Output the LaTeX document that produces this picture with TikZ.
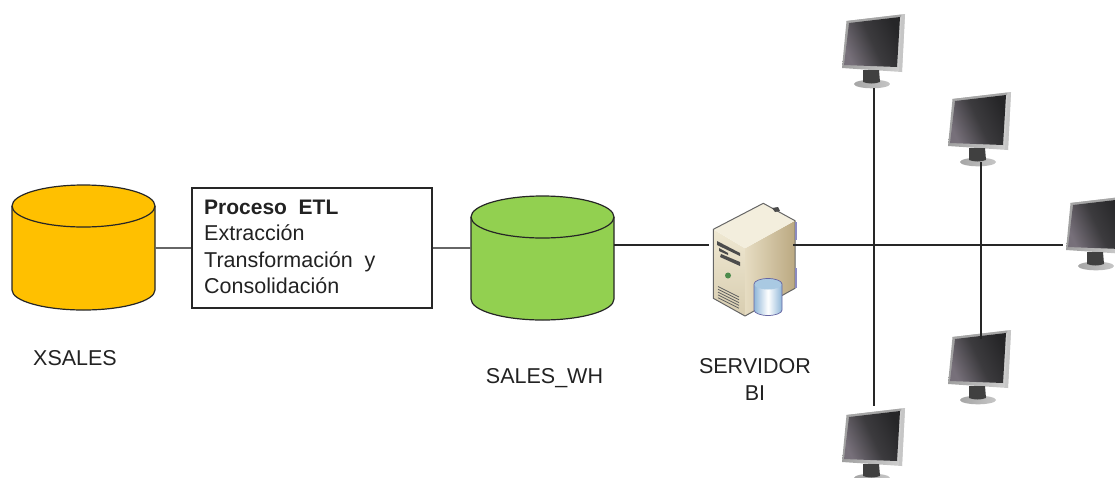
\documentclass[tikz,border=0pt]{standalone}
\usepackage{fontspec}
\setmainfont{Liberation Sans}
\definecolor{txt}{HTML}{222222}
\definecolor{srvtop}{HTML}{F3EEDD}
\definecolor{srvfrontA}{HTML}{EFE8D2}
\definecolor{srvfrontB}{HTML}{D8CDB0}
\definecolor{srvsideA}{HTML}{E6DCC2}
\definecolor{srvsideB}{HTML}{BBA981}
\definecolor{dbside}{HTML}{8FB6D8}
\definecolor{dbtop}{HTML}{A9C9E2}
\definecolor{scrA}{HTML}{77707A}
\definecolor{scrM}{HTML}{3C3B3E}
\definecolor{scrB}{HTML}{262628}
\tikzset{
  every node/.style={font=\fontsize{21.5}{26.6}\selectfont, text=txt, inner sep=0pt},
  conn/.style={draw=black!85, line width=1.5pt},
  connGray/.style={draw=black!60, line width=1.6pt},
  cyl/.style={draw=black!85, line width=1.2pt},
  anchorbox/.style={minimum width=#1, minimum height=10pt},
  monitor/.pic={
    \shade[left color=gray!75, right color=gray!35] (-0.5,0) -- (58,-7) -- (55,51) -- (-5,47) -- cycle;
    \fill[gray!45] (54.5,-6.5) -- (58,-7) -- (55,51) -- (52,50.5) -- cycle;
    \fill[gray!70] (-0.5,0) -- (54.5,-6.5) -- (54,-4) -- (1,2) -- cycle;
    \shade[left color=scrA, right color=scrB, middle color=scrM, shading angle=115]
      (2,2) -- (53,-4) -- (50,46) -- (-3,44) -- cycle;
    \shade[left color=gray!70, right color=gray!45] (25,63) ellipse [x radius=18, y radius=4.3];
    \fill[black!75] (16,49) -- (32,49) -- (33,61) .. controls (28,63) and (21,63) .. (16,61) -- cycle;
    \coordinate (-bot) at (27,67);
    \coordinate (-base) at (28,63);
    \coordinate (-screen) at (28,2);
    \coordinate (-top) at (27,-9);
    \coordinate (-left) at (-8,42);
  }
}
\begin{document}
\begin{tikzpicture}[x=1pt,y=-1pt]
\useasboundingbox (0,0) rectangle (1115,477);
\clip (0,0) rectangle (1115,477);
% yellow cylinder
\path[cyl, fill={rgb,255:red,255;green,192;blue,0}]
  (12,206) -- (12,290) arc[start angle=180,end angle=0,x radius=71.5,y radius=20] -- (155,206)
  arc[start angle=0,end angle=-180,x radius=71.5,y radius=21] -- cycle;
\draw[cyl] (12,206) arc[start angle=180,end angle=0,x radius=71.5,y radius=21];
\node[anchorbox=143pt] (xsales) at (83.5,248) {};
% green cylinder
\path[cyl, fill={rgb,255:red,146;green,208;blue,80}]
  (471,217) -- (471,299) arc[start angle=180,end angle=0,x radius=71.5,y radius=21] -- (614,217)
  arc[start angle=0,end angle=-180,x radius=71.5,y radius=21] -- cycle;
\draw[cyl] (471,217) arc[start angle=180,end angle=0,x radius=71.5,y radius=21];
\node[anchorbox=143pt] (wh) at (542.5,248) {};
\coordinate (whr) at (614,245);
% ETL box
\node[draw=black!85, line width=1.2pt, minimum width=240pt, minimum height=120pt] (etl) at (312,248) {};
\node[anchor=north west, align=left] (etltext) at (204,199.5)
  {{\fontsize{21}{26.6}\selectfont\textbf{Proceso\ \ ETL}}\\Extracción\\Transformación\ \ y\\Consolidación};
% server
\node[minimum width=84pt, minimum height=10pt] (srv) at (751,245) {};
\shade[top color=srvfrontA, bottom color=srvfrontB]
  (713.3,229.3) -- (745,248.3) -- (745,316) -- (713.3,298.3) -- cycle;
\shade[left color=srvsideA, right color=srvsideB]
  (745,248.3) -- (795,220.7) -- (795,288.3) -- (745,316) -- cycle;
\fill[srvtop] (713.3,229.3) -- (763.3,203.3) -- (795,220.7) -- (745,248.3) -- cycle;
\draw[gray!80!black, line width=1pt, line join=round]
  (713.3,229.3) -- (763.3,203.3) -- (795,220.7) -- (795,288.3) -- (745,316) -- (713.3,298.3) -- cycle;
\draw[blue!30!gray!70, line width=1.2pt] (796,222) -- (796,240) (796,268) -- (796,288);
\fill[gray!60!black] (772,208) -- (778,207) -- (780,211) -- (775,212) -- cycle;
\fill[black!70] (717,241) -- (740,253) -- (740,256) -- (717,245) -- cycle;
\fill[black!70] (719,248) -- (728,253) -- (728,255) -- (719,251) -- cycle;
\fill[black!70] (721,254) -- (740,262) -- (740,266) -- (720,257) -- cycle;
\fill[green!35!black!70] (728,275.5) circle (3);
\foreach \i in {0,1,2,3,4}
  \draw[gray!75!black, line width=0.8pt] (718,286.5+2.8*\i) -- (739,297+2.8*\i);
% small db on server
\shade[left color=dbside, right color=dbside, middle color=white]
  (754,284) -- (754,310) arc[start angle=180,end angle=0,x radius=14,y radius=5.5] -- (782,284) -- cycle;
\fill[dbtop] (768,284) ellipse[x radius=14,y radius=5.5];
\draw[blue!40!black!60, line width=0.7pt]
  (754,284) -- (754,310) arc[start angle=180,end angle=0,x radius=14,y radius=5.5] -- (782,284)
  arc[start angle=0,end angle=-180,x radius=14,y radius=5.5] -- cycle;
% monitors
\pic (m1) at (847,21) {monitor};
\pic (m2) at (953,99) {monitor};
\pic (m3) at (1071,203) {monitor};
\pic (m4) at (953,337) {monitor};
\pic (m5) at (847,415) {monitor};
% connectors
\draw[connGray] (xsales.east) -- (etl.west);
\draw[connGray] (etl.east) -- (wh.west);
\draw[conn] (whr) -- (srv.west);
\draw[conn] (srv.east) -- (m3-left);
\draw[conn] (m1-bot) -- (m5-top);
\draw[conn] (m2-base) -- (m4-screen);
% labels
\node (l1) at (75,358) {XSALES};
\node (l2) at (544.5,378) {SALES\_WH};
\node[align=center] (l3) at (755,379.5) {SERVIDOR\\BI};
\end{tikzpicture}
\end{document}
